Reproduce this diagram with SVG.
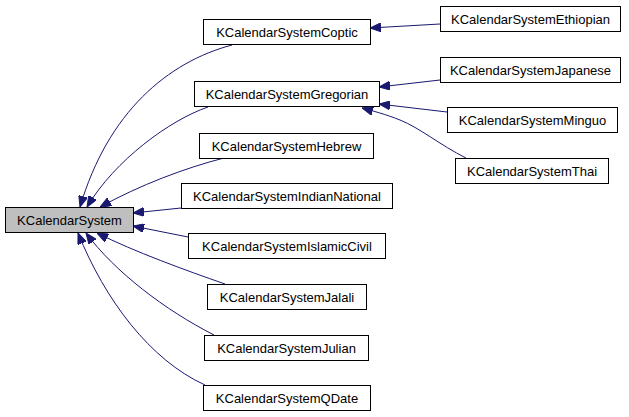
<svg xmlns="http://www.w3.org/2000/svg" width="629" height="417" viewBox="0 0 629 417">
<defs>
<style>
.n rect{fill:#fff;stroke:#000;stroke-width:1}
.n.root rect{fill:#bfbfbf}
.n text{font-family:"Liberation Sans",Arial,sans-serif;font-size:13px;text-anchor:middle;fill:#000}
.e path{fill:none;stroke:#191970;stroke-width:1;marker-end:url(#ah)}
</style>
<marker id="ah" viewBox="0 0 11 9" refX="11" refY="4.5" markerWidth="11" markerHeight="9" markerUnits="userSpaceOnUse" orient="auto">
<path d="M0,0 L11,4.5 L0,9 z" fill="#191970" stroke="#191970" stroke-width="1"/>
</marker>
</defs>
<rect width="629" height="417" fill="#fff"/>
<g id="edges" class="e">
<path d="M232,45 C168,62 108,112 80,207"/>
<path d="M208,107 C170,120 115,160 87,207"/>
<path d="M224,158 C185,168 140,185 100,207"/>
<path d="M181,208 L133,213"/>
<path d="M188,237 L133,226"/>
<path d="M225,284 C185,270 135,252 97,233"/>
<path d="M214,335 C165,310 115,272 86,233"/>
<path d="M205,385 C150,360 105,300 78,233"/>
<path d="M440,24 L370,28"/>
<path d="M440,80 L379,87"/>
<path d="M447,112 L379,104"/>
<path d="M466,158 C440,145 420,128 400,120 C385,114 373,111 362,108"/>
</g>
<g id="KCalendarSystem" class="n root"><rect x="5.5" y="207.5" width="128" height="25"/><text x="69.5" y="224.5">KCalendarSystem</text></g>
<g id="KCalendarSystemCoptic" class="n"><rect x="203.5" y="19.5" width="167" height="25"/><text x="287" y="36.5">KCalendarSystemCoptic</text></g>
<g id="KCalendarSystemGregorian" class="n"><rect x="194.5" y="81.5" width="185" height="25"/><text x="287" y="98.5">KCalendarSystemGregorian</text></g>
<g id="KCalendarSystemHebrew" class="n"><rect x="199.5" y="133.5" width="174" height="25"/><text x="286.5" y="150.5">KCalendarSystemHebrew</text></g>
<g id="KCalendarSystemIndianNational" class="n"><rect x="181.5" y="183.5" width="211" height="25"/><text x="287" y="200.5">KCalendarSystemIndianNational</text></g>
<g id="KCalendarSystemIslamicCivil" class="n"><rect x="188.5" y="233.5" width="197" height="25"/><text x="287" y="250.5">KCalendarSystemIslamicCivil</text></g>
<g id="KCalendarSystemJalali" class="n"><rect x="207.5" y="284.5" width="159" height="25"/><text x="287" y="301.5">KCalendarSystemJalali</text></g>
<g id="KCalendarSystemJulian" class="n"><rect x="204.5" y="335.5" width="164" height="25"/><text x="286.5" y="352.5">KCalendarSystemJulian</text></g>
<g id="KCalendarSystemQDate" class="n"><rect x="203.5" y="385.5" width="167" height="25"/><text x="287" y="402.5">KCalendarSystemQDate</text></g>
<g id="KCalendarSystemEthiopian" class="n"><rect x="440.5" y="6.5" width="180" height="25"/><text x="530.5" y="23.5">KCalendarSystemEthiopian</text></g>
<g id="KCalendarSystemJapanese" class="n"><rect x="440.5" y="57.5" width="180" height="25"/><text x="530.5" y="74.5">KCalendarSystemJapanese</text></g>
<g id="KCalendarSystemMinguo" class="n"><rect x="447.5" y="107.5" width="170" height="25"/><text x="532.5" y="124.5">KCalendarSystemMinguo</text></g>
<g id="KCalendarSystemThai" class="n"><rect x="455.5" y="158.5" width="153" height="25"/><text x="532" y="175.5">KCalendarSystemThai</text></g>
</svg>
